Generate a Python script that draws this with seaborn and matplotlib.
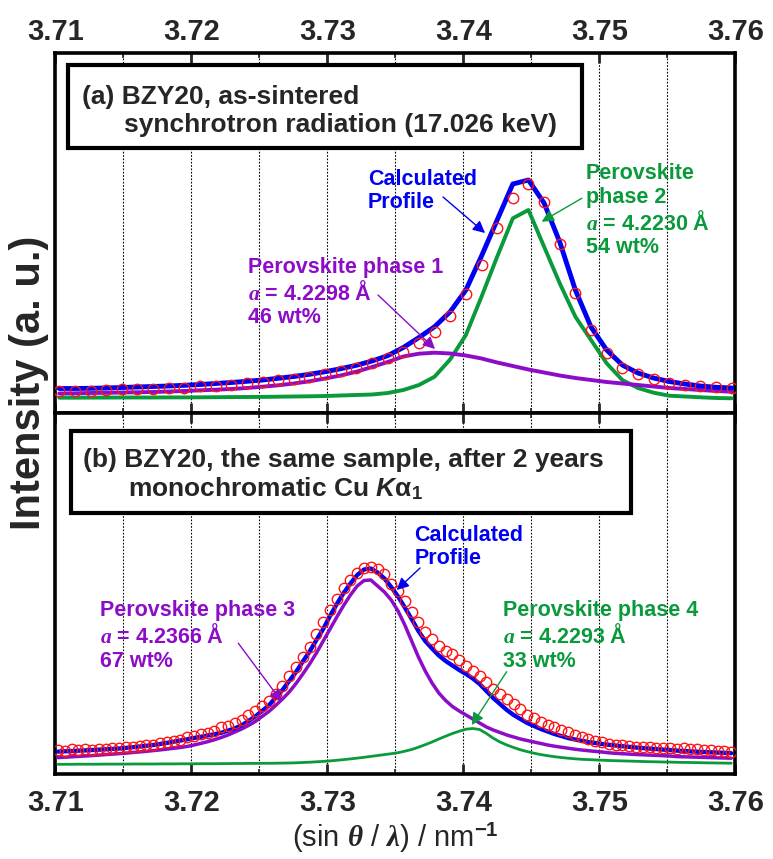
import matplotlib
matplotlib.use("Agg")
import matplotlib.pyplot as plt
from matplotlib.patches import Rectangle
from matplotlib.ticker import MultipleLocator
import seaborn as sns

# ---------------- data ----------------
# (a) as-sintered, synchrotron scan
x_a = [3.71029, 3.71144, 3.71259, 3.71374, 3.71489, 3.71604, 3.71719, 3.71834, 3.71949, 3.72064,
       3.72179, 3.72294, 3.72409, 3.72524, 3.72639, 3.72754, 3.72869, 3.72984, 3.73099, 3.73214,
       3.73329, 3.73444, 3.73559, 3.73674, 3.73789, 3.73904, 3.74019, 3.74134, 3.74249, 3.74364,
       3.74479, 3.74594, 3.74709, 3.74824, 3.74939, 3.75054, 3.75169, 3.75284, 3.75399, 3.75514,
       3.75629, 3.75744, 3.75859, 3.75974]
obs_a = [21.3, 21.3, 21.3, 22.0, 22.7, 23.0, 23.0, 24.0, 24.3, 26.0,
         26.3, 27.0, 28.7, 30.3, 32.0, 33.3, 35.3, 37.7, 41.3, 43.7,
         48.7, 53.7, 60.3, 68.7, 80.3, 96.3, 118.0, 147.0, 184.3, 214.3,
         227.7, 210.3, 167.7, 119.3, 82.0, 58.7, 44.3, 37.7, 32.7, 29.3,
         27.0, 26.0, 25.0, 24.3]
calc_a = [23.5, 23.5, 23.7, 24.0, 24.5, 25.0, 25.5, 26.0, 26.7, 27.5,
          28.5, 29.5, 30.7, 32.0, 33.7, 35.5, 37.7, 40.3, 43.3, 46.7,
          51.0, 56.3, 64.5, 74.5, 85.3, 100.3, 122.0, 156.0, 192.0, 228.0,
          232.0, 209.0, 170.0, 122.0, 85.0, 62.0, 47.0, 39.0, 34.0, 30.5,
          28.0, 26.0, 24.7, 24.0]
phase1_a = [18.5, 18.7, 19.0, 19.2, 19.5, 19.7, 20.0, 20.5, 21.0, 21.7,
            22.3, 23.0, 24.0, 25.3, 26.7, 28.5, 30.7, 33.5, 36.5, 40.3,
            45.0, 50.0, 55.5, 58.3, 59.3, 58.5, 56.5, 53.5, 49.5, 46.0,
            42.5, 39.5, 36.5, 34.0, 32.0, 30.0, 28.5, 27.0, 25.5, 24.0,
            23.0, 22.0, 21.0, 20.3]
phase2_a = [14.3, 14.3, 14.4, 14.4, 14.5, 14.5, 14.5, 14.6, 14.6, 14.7,
            14.8, 14.9, 15.0, 15.1, 15.3, 15.5, 15.7, 16.0, 16.5, 17.0,
            17.5, 19.0, 22.0, 27.0, 35.3, 52.7, 77.0, 115.3, 155.3, 193.7,
            202.0, 165.3, 128.7, 95.3, 72.0, 48.7, 32.0, 24.0, 19.3, 16.3,
            15.5, 14.7, 14.0, 13.7]

# (b) same sample after 2 years, Cu Ka1
x_b = [3.7102, 3.7107, 3.7112, 3.7117, 3.7122, 3.7127, 3.7132, 3.7137, 3.7142, 3.7147,
       3.7152, 3.7157, 3.7162, 3.7167, 3.7172, 3.7177, 3.7182, 3.7187, 3.7192, 3.7197,
       3.7202, 3.7207, 3.7212, 3.7217, 3.7222, 3.7227, 3.7232, 3.7237, 3.7242, 3.7247,
       3.7252, 3.7257, 3.7262, 3.7267, 3.7272, 3.7277, 3.7282, 3.7287, 3.7292, 3.7297,
       3.7302, 3.7307, 3.7312, 3.7317, 3.7322, 3.7327, 3.7332, 3.7337, 3.7342, 3.7347,
       3.7352, 3.7357, 3.7362, 3.7367, 3.7372, 3.7377, 3.7382, 3.7387, 3.7392, 3.7397,
       3.7402, 3.7407, 3.7412, 3.7417, 3.7422, 3.7427, 3.7432, 3.7437, 3.7442, 3.7447,
       3.7452, 3.7457, 3.7462, 3.7467, 3.7472, 3.7477, 3.7482, 3.7487, 3.7492, 3.7497,
       3.7502, 3.7507, 3.7512, 3.7517, 3.7522, 3.7527, 3.7532, 3.7537, 3.7542, 3.7547,
       3.7552, 3.7557, 3.7562, 3.7567, 3.7572, 3.7577, 3.7582, 3.7587, 3.7592, 3.7597]
obs_b = [22.0, 21.5, 22.6, 22.2, 23.0, 22.4, 23.5, 23.1, 24.2, 24.0,
         25.2, 25.0, 26.3, 26.9, 27.5, 29.0, 29.8, 31.2, 32.5, 35.0,
         35.8, 37.6, 39.5, 41.0, 44.8, 46.0, 49.5, 52.0, 56.8, 61.5,
         66.0, 71.5, 78.0, 86.0, 96.0, 105.0, 115.0, 125.0, 138.0, 150.0,
         162.0, 173.0, 184.0, 192.0, 199.5, 204.5, 205.0, 203.5, 198.0, 188.5,
         181.0, 171.0, 160.0, 150.0, 140.5, 133.0, 126.0, 121.5, 118.0, 112.0,
         106.5, 101.0, 96.0, 90.0, 83.5, 78.0, 73.0, 68.5, 63.0, 57.5,
         54.0, 50.5, 47.5, 45.0, 42.0, 40.0, 37.0, 35.0, 33.0, 31.0,
         29.8, 28.5, 27.2, 27.0, 26.0, 25.4, 25.0, 24.6, 24.5, 23.8,
         24.2, 23.5, 23.6, 22.8, 23.0, 22.2, 22.0, 21.3, 21.0, 20.5]
calc_b = [20.4, 20.7, 21.0, 21.3, 21.6, 22.0, 22.3, 22.7, 23.1, 23.5,
          24.1, 24.8, 25.5, 26.2, 27.0, 28.0, 29.1, 30.3, 31.5, 32.7,
          34.0, 35.2, 36.5, 37.8, 39.2, 41.4, 43.7, 46.7, 51.0, 55.5,
          61.0, 66.5, 74.5, 82.0, 91.0, 100.0, 110.5, 120.5, 132.0, 143.0,
          156.0, 168.0, 179.0, 188.5, 197.0, 202.5, 203.5, 199.5, 193.5, 185.0,
          175.5, 164.5, 153.0, 141.0, 131.0, 123.5, 116.5, 111.0, 106.5, 102.0,
          98.0, 93.5, 88.0, 81.0, 74.0, 68.0, 62.0, 57.0, 53.0, 49.0,
          46.0, 43.0, 40.5, 38.0, 36.0, 34.0, 32.5, 31.2, 30.0, 29.0,
          28.0, 27.2, 26.5, 25.8, 25.1, 24.5, 23.9, 23.4, 22.9, 22.4,
          21.9, 21.4, 21.0, 20.6, 20.3, 20.0, 19.7, 19.4, 19.1, 18.8]
phase3_b = [14.4, 14.8, 15.2, 15.6, 16.0, 16.4, 16.9, 17.4, 17.9, 18.4,
            18.9, 19.5, 20.1, 20.7, 21.4, 22.1, 22.9, 23.7, 24.5, 25.6,
            27.0, 28.6, 30.3, 32.3, 34.5, 37.0, 40.0, 43.0, 46.5, 50.5,
            55.5, 60.5, 66.5, 73.0, 80.0, 88.5, 98.0, 108.0, 119.0, 131.0,
            143.0, 155.0, 166.5, 177.0, 186.0, 191.5, 192.0, 186.0, 180.0, 172.0,
            161.0, 147.0, 131.0, 115.0, 101.0, 89.0, 79.0, 71.5, 65.5, 61.0,
            57.0, 53.0, 49.0, 45.0, 42.0, 39.5, 37.0, 35.0, 33.0, 31.5,
            30.0, 28.5, 27.0, 25.8, 24.8, 23.8, 22.8, 22.0, 21.3, 20.6,
            20.0, 19.2, 18.7, 18.3, 17.9, 17.5, 17.2, 16.9, 16.6, 16.3,
            16.0, 15.4, 15.2, 15.0, 14.8, 14.6, 14.4, 14.2, 14.0, 13.8]
phase4_b = [7.7, 7.7, 7.7, 7.8, 7.8, 7.8, 7.8, 7.9, 7.9, 7.9,
            7.9, 8.0, 8.0, 8.0, 8.0, 8.1, 8.1, 8.1, 8.2, 8.2,
            8.2, 8.3, 8.3, 8.3, 8.4, 8.4, 8.5, 8.5, 8.6, 8.6,
            8.7, 8.7, 8.8, 8.9, 9.0, 9.2, 9.5, 9.8, 10.2, 10.6,
            11.1, 11.7, 12.4, 13.1, 13.9, 14.7, 15.6, 16.5, 17.4, 18.3,
            19.3, 20.8, 22.5, 24.8, 27.3, 30.0, 33.0, 35.8, 38.5, 40.8,
            42.8, 43.5, 42.5, 38.5, 33.8, 30.0, 27.0, 24.5, 22.2, 20.4,
            18.8, 17.4, 16.3, 15.3, 14.5, 13.8, 13.2, 12.7, 12.4, 12.1,
            11.8, 11.5, 11.3, 11.1, 10.9, 10.7, 10.5, 10.3, 10.2, 10.0,
            9.9, 9.7, 9.6, 9.5, 9.4, 9.2, 9.1, 9.0, 8.9, 8.8]

x_ticks = [3.71, 3.72, 3.73, 3.74, 3.75, 3.76]
x_tick_labels = ["3.71", "3.72", "3.73", "3.74", "3.75", "3.76"]

BLUE = "#0000F2"
GREEN = "#0A9A3C"
PURPLE = "#8C0CC8"
RED = "#FF1414"

# ---------------- style ----------------
sns.set_style("ticks")
plt.rcParams['font.family'] = ['Liberation Sans', 'DejaVu Sans']
plt.rcParams['font.weight'] = 'bold'
plt.rcParams['mathtext.fontset'] = 'custom'
plt.rcParams['mathtext.rm'] = 'Liberation Sans:bold'
plt.rcParams['mathtext.bf'] = 'Liberation Sans:bold'
plt.rcParams['mathtext.it'] = 'Liberation Serif:italic:bold'
plt.rcParams['mathtext.sf'] = 'Liberation Sans:italic:bold'

fig = plt.figure(figsize=(7.73, 8.59), dpi=100)
ax_a = fig.add_axes([0.07154, 0.51921, 0.87969, 0.41909])
ax_b = fig.add_axes([0.07154, 0.09895, 0.87969, 0.42026])


def draw_panel(ax, x, obs, calc, ph_first, ph_second, lw_calc, lw_first, lw_second):
    sns.lineplot(x=x, y=ph_second, ax=ax, color=GREEN, lw=lw_second, zorder=3)
    sns.lineplot(x=x, y=ph_first, ax=ax, color=PURPLE, lw=lw_first, zorder=4)
    sns.lineplot(x=x, y=calc, ax=ax, color=BLUE, lw=lw_calc, zorder=5)
    sns.lineplot(x=x, y=obs, ax=ax, marker='o', linestyle='', markersize=7.5,
                 markerfacecolor='none', markeredgecolor=RED, markeredgewidth=1.0,
                 zorder=6)


def style_axis(ax, top_labels):
    ax.set_xlim(3.71, 3.76)
    ax.xaxis.set_major_locator(MultipleLocator(0.01))
    ax.xaxis.set_minor_locator(MultipleLocator(0.005))
    ax.set_xticks(x_ticks)
    ax.set_xticklabels(x_tick_labels)
    ax.set_yticks([])
    ax.set_xlabel("")
    ax.set_ylabel("")
    ax.grid(axis='x', which='both', color='black', linestyle=(0, (1.5, 1.5)), lw=0.8)
    ax.set_axisbelow(True)
    ax.tick_params(axis='x', which='both', direction='in', top=True, bottom=True,
                   labeltop=top_labels, labelbottom=not top_labels, labelsize=21)
    ax.tick_params(axis='x', which='major', length=7, width=2, pad=5 if top_labels else 11)
    ax.tick_params(axis='x', which='minor', length=3.5, width=1.2)
    for sp in ax.spines.values():
        sp.set_visible(True)
        sp.set_linewidth(2.6)
        sp.set_color('black')


def note(ax, text, color, xy_last_baseline, xy_start, xy_tip):
    # va='baseline' pins the baseline of the last line of a multi-line text
    ax.text(xy_last_baseline[0], xy_last_baseline[1], text, color=color, fontsize=15.5,
            ha='left', va='baseline', linespacing=1.15, zorder=8)
    ax.annotate('', xy=xy_tip, xytext=xy_start,
                arrowprops=dict(arrowstyle='-|>', color=color, lw=1.0,
                                mutation_scale=18, shrinkA=0, shrinkB=0), zorder=8)


def title_box(ax, box, line1, xy1, line2, xy2):
    ax.add_patch(Rectangle((box[0], box[1]), box[2], box[3], transform=ax.transAxes,
                           fc='white', ec='black', lw=3, zorder=7))
    ax.text(xy1[0], xy1[1], line1, fontsize=19, ha='left', va='baseline', zorder=8)
    ax.text(xy2[0], xy2[1], line2, fontsize=19, ha='left', va='baseline', zorder=8)


# ---------------- panel (a) ----------------
draw_panel(ax_a, x_a, obs_a, calc_a, phase1_a, phase2_a, 3.5, 2.8, 2.8)
style_axis(ax_a, top_labels=True)
ax_a.set_ylim(-1, 359)
title_box(ax_a, (0.0187, 0.7361, 0.7559, 0.2306),
          "(a) BZY20, as-sintered", (3.71196, 308),
          "synchrotron radiation (17.026 keV)", (3.71505, 280.3))
note(ax_a, "Calculated\nProfile", BLUE, (3.73300, 204), (3.73851, 215), (3.74160, 179))
note(ax_a, "Perovskite\nphase 2\n$a$ = 4.2230 Å\n54 wt%", GREEN,
     (3.74899, 159), (3.74871, 213.7), (3.74576, 190.3))
note(ax_a, "Perovskite phase 1\n$a$ = 4.2298 Å\n46 wt%", PURPLE,
     (3.72417, 89), (3.73373, 117), (3.73792, 63))

# ---------------- panel (b) ----------------
draw_panel(ax_b, x_b, obs_b, calc_b, phase3_b, phase4_b, 3.1, 2.5, 2.0)
style_axis(ax_b, top_labels=False)
ax_b.set_ylim(-2, 359)
title_box(ax_b, (0.0226, 0.7238, 0.8240, 0.2263),
          "(b) BZY20, the same sample, after 2 years", (3.71204, 305.3),
          "monochromatic Cu $\\mathsf{K}$α$_1$", (3.71535, 275.3))
note(ax_b, "Calculated\nProfile", BLUE, (3.73640, 208), (3.73682, 204), (3.73510, 182))
note(ax_b, "Perovskite phase 4\n$a$ = 4.2293 Å\n33 wt%", GREEN,
     (3.74294, 105.3), (3.74319, 100.3), (3.74062, 47))
note(ax_b, "Perovskite phase 3\n$a$ = 4.2366 Å\n67 wt%", PURPLE,
     (3.71329, 105.3), (3.72346, 128.7), (3.72665, 70.3))

ax_b.set_xlabel(r"(sin $\theta$ / $\lambda$) / nm$^{-1}$", fontsize=21, labelpad=3)
fig.text(0.0375, 0.5541, "Intensity (a. u.)", rotation=90, fontsize=30,
         ha='center', va='center')

fig.savefig("out.png", dpi=100)
